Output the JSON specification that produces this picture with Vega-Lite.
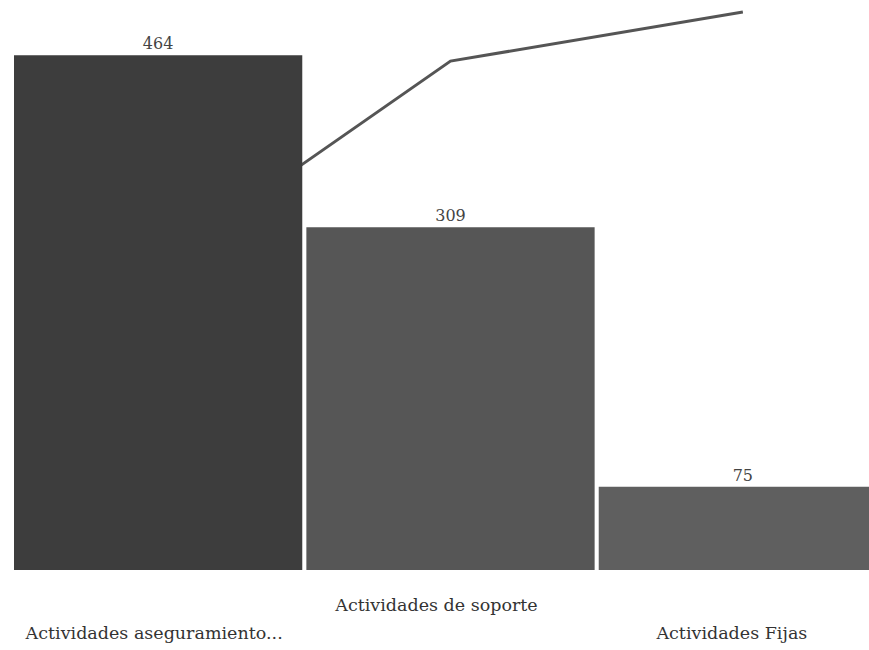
{
  "$schema": "https://vega.github.io/schema/vega-lite/v6.json",
  "autosize": {"type": "none"},
  "padding": {"left": 14, "top": 12, "right": 0, "bottom": 80},
  "width": 873,
  "height": 558,
  "background": "white",
  "config": {"view": {"stroke": null}, "font": "DejaVu Serif"},
  "data": {"values": [
    {"cat": "Actividades aseguramiento...", "n": 464, "cum": 54.7},
    {"cat": "Actividades de soporte", "n": 309, "cum": 91.2},
    {"cat": "Actividades Fijas", "n": 75, "cum": 100}
  ]},
  "encoding": {
    "x": {"field": "cat", "type": "nominal", "sort": null,
      "scale": {"paddingInner": 0.014, "paddingOuter": 0},
      "axis": {"title": null, "labelAngle": 0, "domain": false, "ticks": false,
        "labelFont": "DejaVu Serif", "labelFontSize": 17.5, "labelColor": "#333333",
        "labelBaseline": "top", "labelLimit": 0,
        "labelOffset": {"expr": "datum.value == 'Actividades de soporte' ? -14 : (datum.value == 'Actividades Fijas' ? -11 : -4)"},
        "labelPadding": {"expr": "datum.value == 'Actividades de soporte' ? 26 : 54"}}}
  },
  "layer": [
    {
      "mark": {"type": "line", "color": "#555555", "strokeWidth": 3},
      "encoding": {
        "y": {"field": "cum", "type": "quantitative", "scale": {"domain": [0, 100]}, "axis": null}
      }
    },
    {
      "mark": {"type": "bar"},
      "encoding": {
        "y": {"field": "n", "type": "quantitative", "scale": {"domain": [0, 503]}, "axis": null},
        "color": {"field": "cat", "type": "nominal", "sort": null, "legend": null,
          "scale": {"range": ["#3d3d3d", "#565656", "#5f5f5f"]}}
      }
    },
    {
      "mark": {"type": "text", "dy": -11, "font": "DejaVu Serif", "fontSize": 16, "color": "#444444"},
      "encoding": {
        "y": {"field": "n", "type": "quantitative", "scale": {"domain": [0, 503]}, "axis": null},
        "text": {"field": "n", "type": "quantitative"}
      }
    }
  ],
  "resolve": {"scale": {"y": "independent", "color": "independent"}}
}
